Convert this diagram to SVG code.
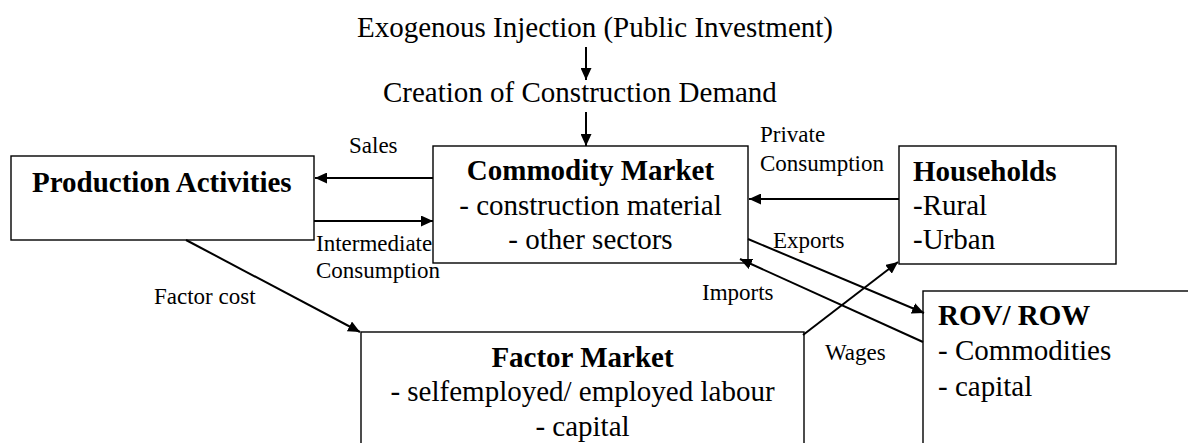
<svg xmlns="http://www.w3.org/2000/svg" width="1188" height="443" viewBox="0 0 1188 443">
<defs>
<marker id="ah" markerUnits="userSpaceOnUse" markerWidth="13" markerHeight="11" refX="12" refY="5.5" orient="auto">
<path d="M0,0 L12,5.5 L0,11 Z" fill="#000"/>
</marker>
<style>
.box{fill:#fff;stroke:#000;stroke-width:1.4}
.c{stroke:#000;stroke-width:2;fill:none;marker-end:url(#ah)}
</style>
</defs>
<rect width="1188" height="443" fill="#fff"/>
<g id="top-labels" font-family="Liberation Serif" font-size="29" fill="#000">
<text x="357" y="37">Exogenous Injection (Public Investment)</text>
<text x="383" y="102">Creation of Construction Demand</text>
</g>
<g id="production" font-family="Liberation Serif" font-size="29" fill="#000">
<rect class="box" x="11" y="156" width="303" height="84"/>
<text x="32" y="192" font-weight="bold">Production Activities</text>
</g>
<g id="commodity" font-family="Liberation Serif" font-size="29" fill="#000">
<rect class="box" x="433" y="146" width="315" height="117"/>
<text x="590.5" y="180" font-weight="bold" text-anchor="middle">Commodity Market</text>
<text x="590.5" y="215" text-anchor="middle">- construction material</text>
<text x="590.5" y="249" text-anchor="middle">- other sectors</text>
</g>
<g id="households" font-family="Liberation Serif" font-size="29" fill="#000">
<rect class="box" x="899" y="146" width="217" height="118"/>
<text x="913" y="181" font-weight="bold">Households</text>
<text x="913" y="215">-Rural</text>
<text x="913" y="249">-Urban</text>
</g>
<g id="factor" font-family="Liberation Serif" font-size="29" fill="#000">
<rect class="box" x="361" y="332" width="443" height="130"/>
<text x="582.5" y="367" font-weight="bold" text-anchor="middle">Factor Market</text>
<text x="582.5" y="401" text-anchor="middle">- selfemployed/ employed labour</text>
<text x="582.5" y="436" text-anchor="middle">- capital</text>
</g>
<g id="rov" font-family="Liberation Serif" font-size="29" fill="#000">
<rect class="box" x="923" y="291" width="280" height="170"/>
<text x="938" y="325" font-weight="bold">ROV/ ROW</text>
<text x="938" y="360">- Commodities</text>
<text x="938" y="396">- capital</text>
</g>
<g id="connectors">
<line class="c" x1="586" y1="47" x2="586" y2="80"/>
<line class="c" x1="586" y1="112" x2="586" y2="146"/>
<line class="c" x1="433" y1="178" x2="315" y2="178"/>
<line class="c" x1="314" y1="221" x2="433" y2="221"/>
<line class="c" x1="899" y1="199" x2="749" y2="199"/>
<line class="c" x1="748" y1="239" x2="924" y2="313"/>
<line class="c" x1="923" y1="342" x2="740" y2="259"/>
<line class="c" x1="803" y1="335" x2="898" y2="262"/>
<line class="c" x1="186" y1="240" x2="360" y2="332"/>
</g>
<g id="connector-labels" font-family="Liberation Serif" font-size="23" fill="#000">
<text x="349" y="153">Sales</text>
<text x="316" y="251">Intermediate</text>
<text x="316" y="278">Consumption</text>
<text x="760" y="142">Private</text>
<text x="760" y="171">Consumption</text>
<text x="773" y="248">Exports</text>
<text x="702" y="300">Imports</text>
<text x="154" y="304">Factor cost</text>
<text x="825" y="360">Wages</text>
</g>
</svg>
